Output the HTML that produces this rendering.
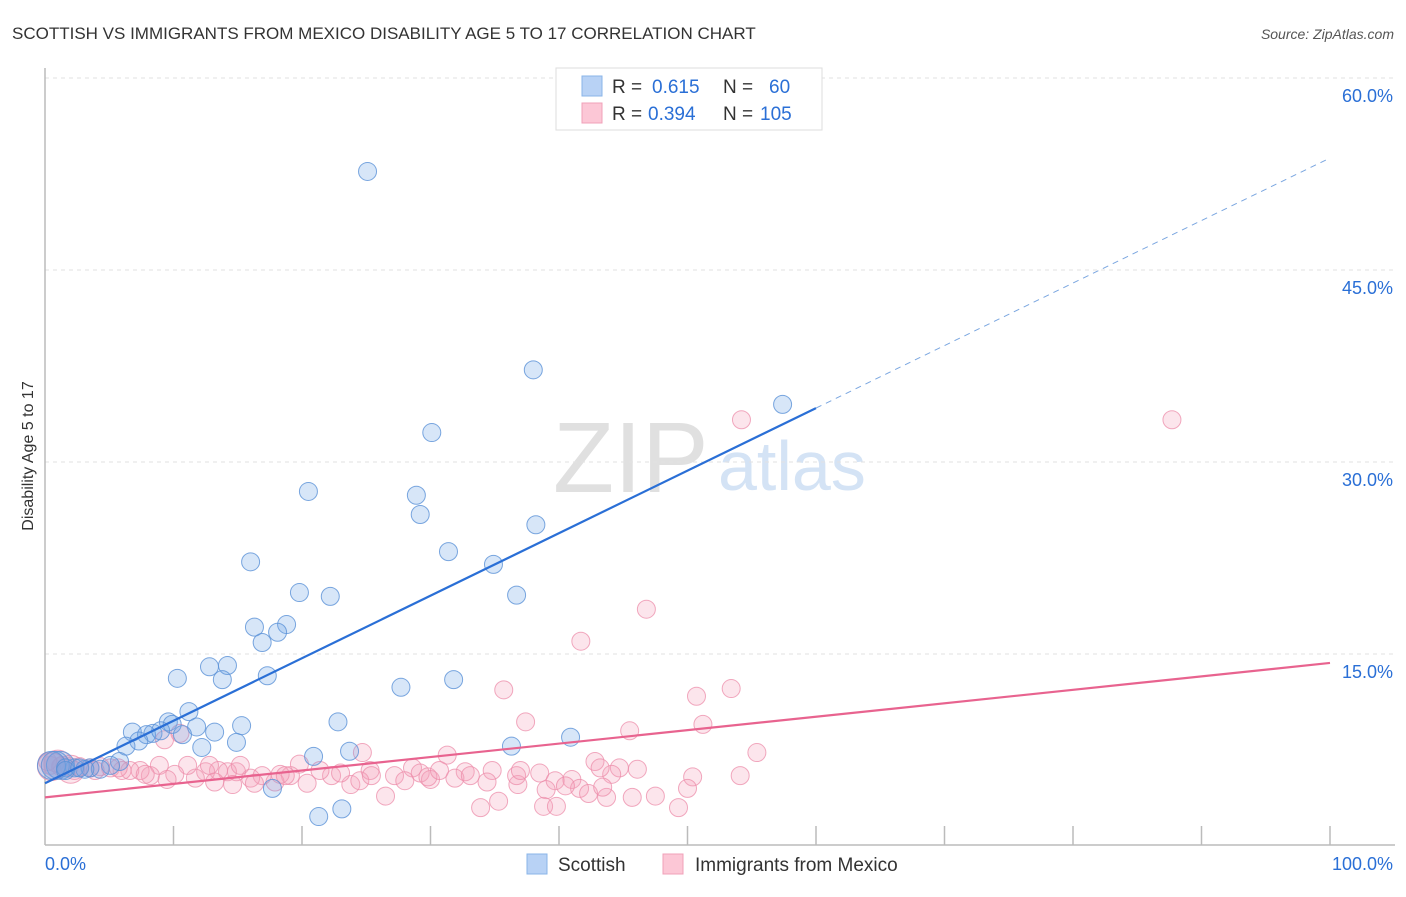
<!DOCTYPE html>
<html><head><meta charset="utf-8"><style>
body{margin:0;background:#fff;font-family:"Liberation Sans",sans-serif}
svg text{font-family:"Liberation Sans",sans-serif}
</style></head><body>
<svg id="chart" width="1406" height="892" xmlns="http://www.w3.org/2000/svg">
<text x="12" y="39" font-size="17" fill="#333">SCOTTISH VS IMMIGRANTS FROM MEXICO DISABILITY AGE 5 TO 17 CORRELATION CHART</text>
<text x="1394" y="39" font-size="14" fill="#555" text-anchor="end" font-style="italic">Source: ZipAtlas.com</text>
<text transform="translate(33,456) rotate(-90)" font-size="16" fill="#333" text-anchor="middle">Disability Age 5 to 17</text>
<g><text x="553" y="492" font-size="100" fill="#e0e0e0" font-family="Liberation Serif,serif">ZIP</text><text x="718" y="490" font-size="70" fill="#d4e3f5">atlas</text></g>
<g id="grid"></g><g id="axes"></g><g id="marks"></g>
<g>
<rect x="556" y="68" width="266" height="62" fill="#fff" stroke="#ddd"/>
<rect x="582" y="76" width="20" height="20" fill="#b8d2f5" stroke="#8ab4e8"/>
<rect x="582" y="103" width="20" height="20" fill="#fcc7d6" stroke="#f0a0b8"/>
<text x="612" y="93" font-size="19" fill="#333">R = </text><text x="652" y="93" font-size="19" fill="#2a6fd6">0.615</text>
<text x="723" y="93" font-size="19" fill="#333">N = </text><text x="769" y="93" font-size="19" fill="#2a6fd6">60</text>
<text x="612" y="120" font-size="19" fill="#333">R = </text><text x="648" y="120" font-size="19" fill="#2a6fd6">0.394</text>
<text x="723" y="120" font-size="19" fill="#333">N = </text><text x="760" y="120" font-size="19" fill="#2a6fd6">105</text>
</g>
<g>
<rect x="527" y="854" width="20" height="20" fill="#b8d2f5" stroke="#8ab4e8"/>
<text x="558" y="871" font-size="19" fill="#333">Scottish</text>
<rect x="663" y="854" width="20" height="20" fill="#fcc7d6" stroke="#f0a0b8"/>
<text x="695" y="871" font-size="19" fill="#333">Immigrants from Mexico</text>
</g>
</svg>
<script>
const yTicks=[15,30,45,60];
const yTickLabels=["15.0%","30.0%","45.0%","60.0%"];
const xTicks=[0,10,20,30,40,50,60,70,80,90,100];
const blueX=[25.1,38.0,57.4,30.1,20.5,28.9,29.2,38.2,31.4,16.0,34.9,19.8,36.7,22.2,16.3,18.8,18.1,16.9,12.8,14.2,10.3,13.8,17.3,27.7,31.8,11.2,22.8,11.8,15.3,9.6,9.9,6.8,8.4,7.9,9.0,10.7,13.2,7.3,6.3,12.2,14.9,40.9,36.3,23.7,20.9,5.8,5.1,3.5,2.3,1.2,0.8,0.5,4.3,3.1,1.6,17.7,23.1,21.3,1.6,2.7];
const blueY=[52.7,37.2,34.5,32.3,27.7,27.4,25.9,25.1,23.0,22.2,22.0,19.8,19.6,19.5,17.1,17.3,16.7,15.9,14.0,14.1,13.1,13.0,13.3,12.4,13.0,10.5,9.7,9.3,9.4,9.7,9.5,8.9,8.8,8.7,9.0,8.7,8.9,8.2,7.8,7.7,8.1,8.5,7.8,7.4,7.0,6.6,6.3,6.1,6.1,6.3,6.3,6.3,6.0,6.0,6.1,4.5,2.9,2.3,5.9,6.1];
const pinkX=[54.2,87.7,46.8,41.7,53.4,50.7,35.7,37.4,51.2,45.5,55.4,31.3,24.7,19.8,10.5,9.3,42.8,44.7,46.1,28.6,32.7,34.8,38.5,41.0,44.1,50.4,54.1,36.8,34.4,39.7,41.6,42.3,45.7,47.5,50.0,43.7,35.3,33.9,38.8,39.8,49.3,26.5,23.8,22.3,19.1,17.9,16.9,16.0,14.9,14.2,13.5,12.5,11.7,11.1,10.1,8.9,8.2,7.4,6.6,6.0,5.1,4.3,3.5,2.7,1.9,1.2,0.4,15.2,12.8,21.4,23.0,25.3,27.2,29.2,30.0,31.9,33.1,28.0,24.5,20.4,18.3,18.7,29.8,36.7,39.0,40.5,43.4,16.3,14.6,13.2,9.5,7.8,5.7,3.9,2.3,1.3,0.8,0.2,25.4,30.7,37.0,43.2,1.0,2.0,0.5];
const pinkY=[33.3,33.3,18.5,16.0,12.3,11.7,12.2,9.7,9.5,9.0,7.3,7.1,7.3,6.4,8.8,8.3,6.6,6.1,6.0,6.1,5.8,5.9,5.7,5.2,5.6,5.4,5.5,4.8,5.0,5.1,4.5,4.1,3.8,3.9,4.5,3.8,3.5,3.0,3.1,3.1,3.0,3.9,4.8,5.5,5.5,5.0,5.5,5.3,5.8,5.8,5.9,5.8,5.3,6.3,5.6,6.3,5.5,5.9,5.9,5.9,6.1,6.2,6.1,6.2,6.2,6.2,6.3,6.3,6.3,5.9,5.7,5.9,5.5,5.7,5.2,5.3,5.5,5.1,5.1,4.9,5.6,5.5,5.4,5.5,4.4,4.7,4.6,4.9,4.8,5.0,5.2,5.6,6.1,5.9,5.9,6.3,6.5,6.6,5.5,5.9,5.9,6.1,6.4,6.0,6.2];
const blueTrend=[4.9,53.75];
const pinkTrend=[3.8,14.3];
const NS="http://www.w3.org/2000/svg";
const X0=45,X1=1330,Y0=846,PX=12.8;
const xs=v=>X0+(X1-X0)*v/100;
const ys=v=>Y0-v*PX;
function mk(tag,attrs,parent){const e=document.createElementNS(NS,tag);for(const k in attrs)e.setAttribute(k,attrs[k]);document.getElementById(parent).appendChild(e);return e;}
yTicks.forEach((t,i)=>{
 const g=mk('line',{x1:45,x2:1395,y1:ys(t),y2:ys(t),stroke:'#e2e2e2','stroke-dasharray':'4,4'},'grid');
 
 
 const l=mk('text',{x:1393,y:ys(t)+24,'font-size':18,fill:'#2a6fd6','text-anchor':'end'},'grid');
 
 
 l.textContent=yTickLabels[i];
});
const ax=mk('line',{x1:45,x2:1395,y1:845,y2:845,stroke:'#bbb','stroke-width':1.5},'axes');


const ay=mk('line',{x1:45,x2:45,y1:68,y2:845,stroke:'#bbb','stroke-width':1.5},'axes');


xTicks.forEach(t=>{if(t===0)return;
 const k=mk('line',{x1:xs(t),x2:xs(t),y1:826,y2:845,stroke:'#bbb','stroke-width':1.5},'axes');
 
 
});
const x0l=mk('text',{x:45,y:870,'font-size':18,fill:'#2a6fd6'},'axes');


x0l.textContent='0.0%';
const x1l=mk('text',{x:1393,y:870,'font-size':18,fill:'#2a6fd6','text-anchor':'end'},'axes');


x1l.textContent='100.0%';
pinkX.forEach((v,i)=>{
 const c=mk('circle',{cx:xs(v),cy:ys(pinkY[i]),r:i>=pinkX.length-3?14:9,fill:'rgba(245,160,185,0.28)',stroke:'rgba(236,140,170,0.75)','stroke-width':1},'marks');
 
 
});
blueX.forEach((v,i)=>{
 const c=mk('circle',{cx:xs(v),cy:ys(blueY[i]),r:(v<1.5)?14:9,fill:'rgba(110,165,230,0.28)',stroke:'rgba(90,145,215,0.8)','stroke-width':1},'marks');
 
 
});
const bt=v=>blueTrend[0]+(blueTrend[1]-blueTrend[0])*v/100;
const b1=mk('line',{x1:xs(0),y1:ys(bt(0)),x2:xs(60),y2:ys(bt(60)),stroke:'#2a6fd6','stroke-width':2.2},'marks');


const b2=mk('line',{x1:xs(60),y1:ys(bt(60)),x2:xs(100),y2:ys(bt(100)),stroke:'#7aa6e0','stroke-width':1,'stroke-dasharray':'6,5'},'marks');


const p1=mk('line',{x1:xs(0),y1:ys(pinkTrend[0]),x2:xs(100),y2:ys(pinkTrend[1]),stroke:'#e8638f','stroke-width':2.2},'marks');


</script>
</body></html>
